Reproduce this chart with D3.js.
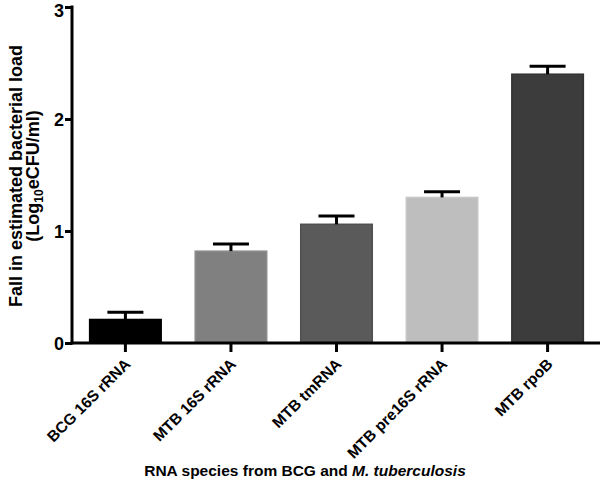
<!DOCTYPE html>
<html><head><meta charset="utf-8">
<script src="https://cdn.jsdelivr.net/npm/d3@7"></script>
<style>
body{margin:0;background:#fff;}
text{font-family:"Liberation Sans",Arial,sans-serif;font-weight:bold;}
</style></head>
<body><svg id="c" width="600" height="480"></svg>
<script>
const categories = ["BCG 16S rRNA","MTB 16S rRNA","MTB tmRNA","MTB pre16S rRNA","MTB rpoB"];
const values = [0.21, 0.82, 1.06, 1.30, 2.40];
const errors = [0.065, 0.065, 0.075, 0.05, 0.07];
const colors = ["#000000","#808080","#5a5a5a","#bebebe","#3c3c3c"];
const strokes = ["#000000","#8c8c8c","#505050","#c8c8c8","#333333"];
const yTicks = [0,1,2,3];

const svg = d3.select("#c");
const x0 = 72, y0 = 343;
const x = d3.scaleBand().domain(categories).range([x0, 601]).paddingInner(0.308).paddingOuter(0.16);
const y = d3.scaleLinear().domain([0,3]).range([y0, 7]);

// bars
svg.selectAll("rect.bar").data(categories).enter().append("rect")
  .attr("x", d=>x(d)+0.75).attr("width", x.bandwidth()-1.5)
  .attr("y", (d,i)=>y(values[i])).attr("height", (d,i)=>y0-y(values[i]))
  .attr("fill",(d,i)=>colors[i]).attr("stroke",(d,i)=>strokes[i]).attr("stroke-width",1.5);

// error bars
const eg = svg.selectAll("g.err").data(categories).enter().append("g");
eg.append("line")
  .attr("x1", d=>x(d)+x.bandwidth()/2).attr("x2", d=>x(d)+x.bandwidth()/2)
  .attr("y1", (d,i)=>y(values[i])).attr("y2",(d,i)=>y(values[i]+errors[i]))
  .attr("stroke","#000").attr("stroke-width",3);
eg.append("line")
  .attr("x1", d=>x(d)+x.bandwidth()/2-18).attr("x2", d=>x(d)+x.bandwidth()/2+18)
  .attr("y1", (d,i)=>y(values[i]+errors[i])).attr("y2",(d,i)=>y(values[i]+errors[i]))
  .attr("stroke","#000").attr("stroke-width",3);

// y axis
const ya = svg.append("g").attr("transform",`translate(${x0},0)`)
  .call(d3.axisLeft(y).tickValues(yTicks).tickFormat(d3.format("d")).tickSize(7).tickSizeOuter(0));
ya.select(".domain").attr("stroke","#000").attr("stroke-width",3).attr("d",`M0,${y(3)-1.5}V${y0+1.5}`);
ya.selectAll(".tick line").attr("stroke","#000").attr("stroke-width",3);
ya.selectAll(".tick text").attr("font-size","18px").attr("fill","#000").attr("x",-8)
  .attr("dy", d => d === 3 ? "0.55em" : "0.38em");

// x axis
const xa = svg.append("g").attr("transform",`translate(0,${y0})`)
  .call(d3.axisBottom(x).tickSize(9).tickSizeOuter(0));
xa.select(".domain").attr("stroke","#000").attr("stroke-width",3).attr("d",`M${x0-1.5},0H600`);
xa.selectAll(".tick line").attr("stroke","#000").attr("stroke-width",3);
xa.selectAll(".tick text").attr("font-size","15.5px").attr("fill","#000")
  .attr("text-anchor","end").attr("dy","0")
  .attr("transform","translate(6,22) rotate(-45)").attr("x",0).attr("y",0);

// y title
const yt = svg.append("text").attr("transform","translate(22,176) rotate(-90)")
  .attr("text-anchor","middle").attr("font-size","18px").attr("fill","#000");
yt.append("tspan").attr("x",0).attr("y",0).text("Fall in estimated bacterial load");
const t2 = yt.append("tspan").attr("x",0).attr("y",17);
t2.append("tspan").text("(Log");
t2.append("tspan").attr("font-size","12px").attr("dy",4).text("10");
t2.append("tspan").attr("dy",-4).text("eCFU/ml)");

// x title
const xt = svg.append("text").attr("x",305).attr("y",476).attr("text-anchor","middle")
  .attr("font-size","15.5px").attr("fill","#000");
xt.append("tspan").text("RNA species from BCG and ");
xt.append("tspan").attr("font-style","italic").text("M. tuberculosis");
</script></body></html>
